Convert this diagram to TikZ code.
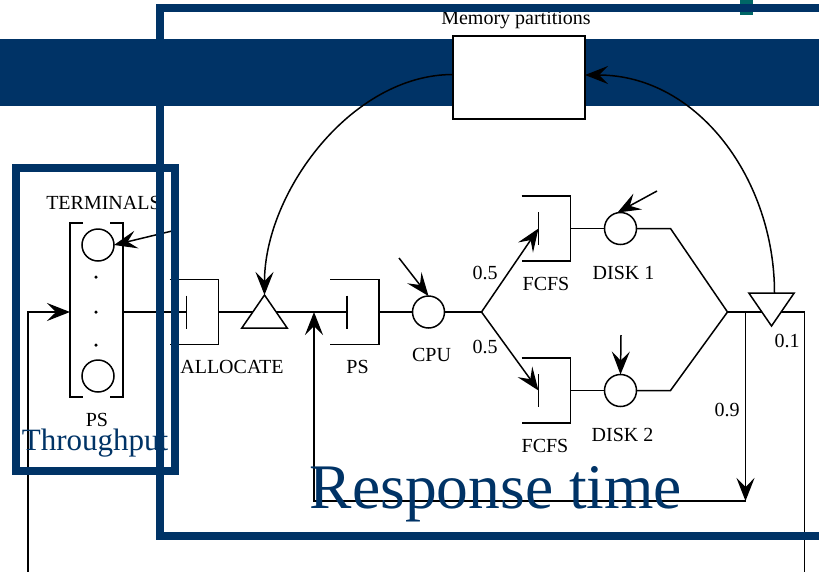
\documentclass[tikz,border=0pt]{standalone}
\usepackage{fontspec}
\setmainfont{Liberation Serif}
\usetikzlibrary{shapes.geometric,arrows.meta,positioning}
\definecolor{framecolor}{HTML}{003366}
\definecolor{markcolor}{HTML}{006666}
\tikzstyle{queue} = [inner sep=0,outer sep=0,minimum width=49,minimum height=65]
\tikzstyle{disk} = [draw,circle,line width=1.5pt,fill=white,inner sep=0,outer sep=0,minimum size=32]
\tikzstyle{dot} = [fill,circle,inner sep=0,minimum size=3.5]
\tikzstyle{link} = [-,line width=1.5pt]
\tikzstyle{flow} = [-{Stealth[length=23pt,width=18pt,inset=9pt]},line width=1.5pt]
\tikzstyle{caption} = [inner sep=0,outer sep=0,font=\fontsize{20}{20}\selectfont]
\tikzstyle{gate} = [draw,isosceles triangle,isosceles triangle apex angle=69,line width=1.5pt,fill=white,inner sep=0,outer sep=0,minimum height=33,anchor=apex]
\tikzstyle{frame} = [draw=framecolor,line width=7.5pt]
\begin{document}
\begin{tikzpicture}[x=1pt,y=-1pt]
      \useasboundingbox (0,0) rectangle (819,571);
      \node[fill=framecolor,inner sep=0,minimum width=819,minimum height=67] (band) at (409.5,72.5) {};
      \node[fill=markcolor,inner sep=0,minimum width=13,minimum height=15] (mark) at (746.5,7.5) {};
      \node[draw,fill=white,line width=1.5pt,inner sep=0,outer sep=0,minimum width=132,minimum height=83] (memory) at (519,77.5) {};
      \node[caption,above=7pt of memory,xshift=-3pt] (memorytext) {Memory partitions};
      % queues and service centres
      \node[queue] (term) at (96.5,310) [minimum width=53,minimum height=174] {};
      \node[disk,below=6pt of term.north,xshift=1.5pt] (t1) {};
      \node[disk,above=5pt of term.south,xshift=1.5pt] (t2) {};
      \foreach \name/\ypos in {dota/277,dotb/312,dotc/345}
        \node[dot] (\name) at (96,\ypos) {};
      \node[queue] (alloc) at (194,312) {};
      \node[queue,right=111.5pt of alloc] (ps) {};
      \node[disk,right=33.5pt of ps] (cpu) {};
      \coordinate[right=37pt of cpu] (split);
      \node[queue,above right=51pt and 40pt of split] (fcfsa) {};
      \node[queue,below right=46pt and 40pt of split] (fcfsb) {};
      \node[disk,right=34pt of fcfsa] (diska) {};
      \node[disk,right=34pt of fcfsb] (diskb) {};
      \coordinate[right=34pt of diska] (benda);
      \coordinate[right=34pt of diskb] (bendb);
      \coordinate[right=246pt of split] (merge);
      \coordinate[right=18pt of merge] (branch);
      \coordinate[right=77pt of merge] (exit);
      \coordinate[below=189pt of branch] (turn);
      \coordinate[right=95.5pt of alloc] (rejoin);
      \coordinate (entry) at (28,575);
      \coordinate (cpuin) at (399,258);
      \coordinate (diskain) at (657,191);
      \coordinate (diskbin) at (621,335);
      \coordinate (termin) at (172,231);
      \foreach \q in {alloc,ps,fcfsa,fcfsb} {
        \draw[link] (\q.north west) -- (\q.north east) -- (\q.south east) -- (\q.south west);
        \draw[link] ([xshift=17pt,yshift=16.5pt]\q.west) -- ([xshift=17pt,yshift=-16.5pt]\q.west);
      }
      \draw[link] ([xshift=13pt]term.north west) -- (term.north west) -- (term.south west) -- ([xshift=13pt]term.south west);
      \draw[link] ([xshift=-13pt]term.north east) -- (term.north east) -- (term.south east) -- ([xshift=-13pt]term.south east);
      % connectors
      \draw[flow] (entry) |- (term.west |- alloc.west);
      \draw[link] (term.east |- alloc.west) -- ([xshift=17pt]alloc.west);
      \draw[link] (alloc.east) -- ([xshift=17pt]ps.west);
      \draw[link] (ps.east) -- (cpu.west);
      \draw[link] (cpu.east) -- (split);
      \draw[flow] (split) -- ([xshift=17pt]fcfsa.west);
      \draw[flow] (split) -- ([xshift=17pt]fcfsb.west);
      \draw[link] (fcfsa.east) -- (diska.west);
      \draw[link] (fcfsb.east) -- (diskb.west);
      \draw[link] (diska.east) -- (benda) -- (merge);
      \draw[link] (diskb.east) -- (bendb) -- (merge);
      \draw[link] (merge) -- (exit) -- (exit |- entry);
      \draw[flow] (branch) -- (turn);
      \draw[flow] (turn) -| (rejoin);
      \draw[flow] (termin) -- (t1.east);
      \draw[flow] (cpuin) -- (cpu.north);
      \draw[flow] (diskain) -- ([xshift=-3pt]diska.north);
      \draw[flow] (diskbin) -- (diskb.north);
      \node[gate,shape border rotate=90] (admit) at ([xshift=46pt,yshift=17pt]alloc.east) {};
      \node[gate,shape border rotate=270] (drop) at ([xshift=26pt,yshift=-14pt]branch) {};
      \draw[flow] ([yshift=3pt]memory.west) to[out=180,in=90,looseness=0.9] (admit.apex);
      \draw[flow] ([xshift=3pt]drop.lower side) to[out=90,in=0] ([yshift=2.5pt]memory.east);
      % labels
      \node[caption,above=13pt of term,xshift=7pt] (termtext) {TERMINALS};
      \node[caption,below=16pt of term,xshift=0.5pt] (termps) {PS};
      \node[caption,below=16pt of alloc,xshift=38pt] (alloctext) {ALLOCATE};
      \node[caption,below=16pt of ps,xshift=3pt] (pstext) {PS};
      \node[caption,below=20pt of cpu,xshift=3pt] (cputext) {CPU};
      \node[caption,below=16pt of fcfsa] (fcfsatext) {FCFS};
      \node[caption,below=16pt of fcfsb,xshift=-1pt] (fcfsbtext) {FCFS};
      \node[caption,below=22pt of diska,xshift=3pt] (diskatext) {DISK 1};
      \node[caption,below=22pt of diskb,xshift=2pt] (diskbtext) {DISK 2};
      \node[caption] (splita) at (485,273) {0.5};
      \node[caption] (splitb) at (485,347) {0.5};
      \node[caption] (dropp) at (787,341) {0.1};
      \node[caption] (backp) at (727,410) {0.9};
      % frames on top
      \node[frame,inner sep=0,minimum width=159,minimum height=303] (throughputbox) at (95.5,319.5) {};
      \draw[frame] (830,8) -- (160,8) -- (160,536) -- (830,536);
      \node[inner sep=0,text=framecolor,font=\fontsize{31}{31}\selectfont] (throughput) at (95,443) {Throughput};
      \node[inner sep=0,text=framecolor,font=\fontsize{63.5}{64}\selectfont] (response) at (496,494) {Response time};
    \end{tikzpicture}
\end{document}
